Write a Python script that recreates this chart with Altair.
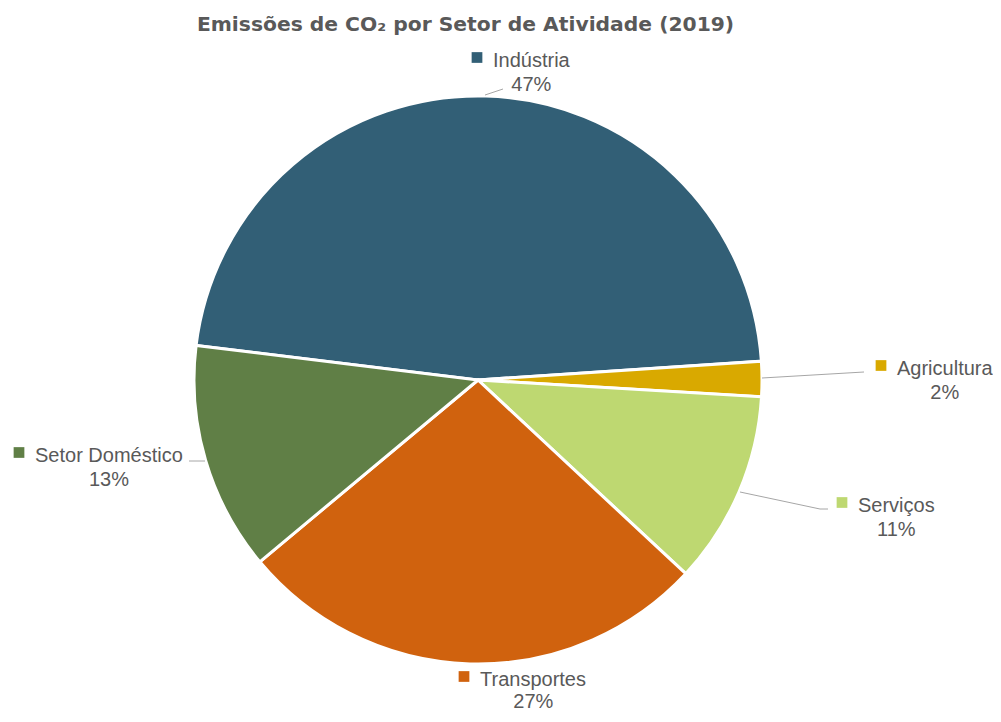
import math
import altair as alt
import pandas as pd

# ---------------- data ----------------
sectors = ["Indústria", "Agricultura", "Serviços", "Transportes", "Setor Doméstico"]
shares = [47, 2, 11, 27, 13]
colors = ["#325F76", "#D9A900", "#BED871", "#D0620E", "#607F46"]

# ---------------- layout (page pixels) ----------------
PAGE_X0, PAGE_Y0 = 8, 52          # view origin on the page (margin + title padding)
CX, CY, R = 478, 380, 284         # pie centre and radius on the page
START_DEG = 277                   # angle where the first slice starts (clockwise from top)
FONT = "Liberation Sans"
FS = 20
TEXT_COL = "#595959"

# label anchors: left edge of the name text, its baseline and the gap to the % line (page px)
label_left = [493, 897, 858, 480, 35]
label_base = [67, 375, 512, 686, 462]
label_gap = [24, 24, 24, 22, 24]
SQ_DX, SQ_DY = -16, -9.5

# leader lines (page px)
leaders = {
    "Indústria": [(485, 95), (503, 89)],
    "Agricultura": [(762, 378), (864, 372)],
    "Serviços": [(740, 492), (820, 509), (828, 509)],
    "Setor Doméstico": [(189, 461), (205, 461)],
}

# Arial / Liberation Sans advance widths (1/1000 em)
AW = {"I": 278, "n": 556, "d": 556, "ú": 556, "s": 500, "t": 278, "r": 333, "i": 222,
      "a": 556, "A": 667, "g": 556, "c": 500, "u": 556, "l": 222, "S": 667, "e": 556,
      "v": 500, "ç": 500, "o": 556, "T": 611, "p": 556, " ": 278, "D": 722, "m": 833,
      "é": 556}


def text_w(s):
    return sum(AW.get(ch, 556) for ch in s) * FS / 1000.0


df = pd.DataFrame({"sector": sectors, "share": shares, "idx": list(range(len(sectors)))})

rows = []
for s, v, lx, by, g in zip(sectors, shares, label_left, label_base, label_gap):
    w = text_w(s)
    rows.append({
        "sector": s,
        "pct": f"{v}%",
        "nx": lx - PAGE_X0,
        "ny": by - PAGE_Y0,
        "px": lx + w / 2 - PAGE_X0,
        "py": by + g - PAGE_Y0,
        "sx": lx + SQ_DX - PAGE_X0,
        "sy": by + SQ_DY - PAGE_Y0,
    })
labels = pd.DataFrame(rows)

lrows = []
for s, pts in leaders.items():
    for i, (x, y) in enumerate(pts):
        lrows.append({"seg": s, "o": i, "x": x - PAGE_X0, "y": y - PAGE_Y0})
lead = pd.DataFrame(lrows)

a0 = math.radians(START_DEG)
color_scale = alt.Scale(domain=sectors, range=colors)

pie = alt.Chart(df).mark_arc(radius=R, stroke="white", strokeWidth=3).encode(
    theta=alt.Theta("share:Q", stack=True, scale=alt.Scale(range=[a0, a0 + 2 * math.pi])),
    color=alt.Color("sector:N", scale=color_scale, legend=None),
    order=alt.Order("idx:Q"),
    x=alt.value(CX - PAGE_X0),
    y=alt.value(CY - PAGE_Y0),
)

lines = alt.Chart(lead).mark_line(color="#A6A6A6", strokeWidth=1).encode(
    x=alt.X("x:Q", scale=None),
    y=alt.Y("y:Q", scale=None),
    detail="seg:N",
    order="o:Q",
)

names = alt.Chart(labels).mark_text(
    align="left", baseline="alphabetic", font=FONT, fontSize=FS, color=TEXT_COL
).encode(x=alt.X("nx:Q", scale=None), y=alt.Y("ny:Q", scale=None), text="sector:N")

pcts = alt.Chart(labels).mark_text(
    align="center", baseline="alphabetic", font=FONT, fontSize=FS, color=TEXT_COL
).encode(x=alt.X("px:Q", scale=None), y=alt.Y("py:Q", scale=None), text="pct:N")

squares = alt.Chart(labels).mark_square(size=115, opacity=1, filled=True).encode(
    x=alt.X("sx:Q", scale=None),
    y=alt.Y("sy:Q", scale=None),
    color=alt.Color("sector:N", scale=color_scale, legend=None),
)

chart = alt.layer(pie, lines, squares, names, pcts).properties(
    width=985,
    height=662,
    autosize=alt.AutoSizeParams(type="none"),
    padding={"left": 0, "top": 44, "right": 0, "bottom": 0},
    title=alt.TitleParams(
        text="Emissões de CO₂ por Setor de Atividade (2019)",
        anchor="middle",
        frame="group",
        dx=-35,
        offset=0,
        baseline="alphabetic",
        font="DejaVu Sans",
        fontSize=20.3,
        fontWeight="bold",
        color=TEXT_COL,
    ),
).configure_view(stroke=None)

chart.save("out.html", embed_options={"renderer": "svg", "actions": False})
